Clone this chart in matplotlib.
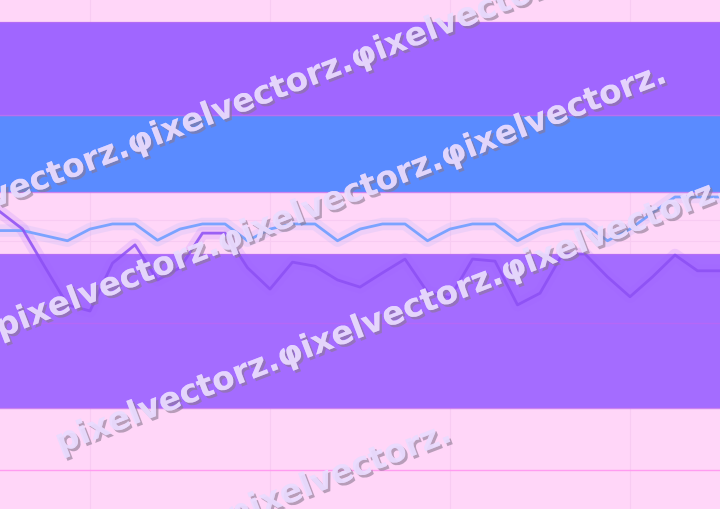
import matplotlib
matplotlib.use("Agg")
import matplotlib.pyplot as plt
import matplotlib.patheffects as pe
import numpy as np

# values (y scale 0..100, one point per step)
blue_vals = [54.7, 54.7, 53.7, 52.7, 55.0, 56.0, 56.0, 52.8, 55.0, 56.0, 56.0,
             52.7, 55.0, 56.0, 56.0, 52.7, 55.0, 56.0, 56.0, 52.7, 55.0, 56.0,
             56.0, 52.7, 55.0, 56.0, 56.0, 52.7, 55.0, 58.2, 61.3, 61.3, 61.3]
purple_vals = [58.4, 55.0, 47.5, 40.1, 38.9, 48.3, 51.9, 45.0, 47.4, 54.2, 54.2,
               47.4, 43.2, 48.5, 47.7, 45.0, 43.6, 46.4, 49.1, 42.6, 41.5, 49.1,
               48.7, 40.1, 42.4, 50.1, 50.1, 45.6, 41.7, 45.6, 49.9, 46.8, 46.8]

# horizontal bands: (low, high, colour)
band_lows = [62.3, 77.4, 19.8]
band_highs = [77.4, 95.7, 50.1]
band_colors = ["#5a8bff", "#a066ff", "#a46cff"]

ref_lines = [36.5, 7.7]
minor_lines = [56.8, 52.6]
vgrid = [4, 12, 20, 28]

watermark = "pixelvectorz.φixelvectorz.φixelvectorz."

x = np.arange(len(blue_vals))

fig = plt.figure(figsize=(7.2, 5.09), dpi=100)
fig.patch.set_facecolor("#ffd6f8")
ax = fig.add_axes([0, 0, 1, 1])
ax.set_facecolor("#ffd6f8")
ax.set_xlim(0, len(x) - 1)
ax.set_ylim(0, 100)
ax.axis("off")

for xv in vgrid:
    ax.axvline(xv, color="#f8cbf2", lw=0.8, zorder=1)
for yv in minor_lines:
    ax.axhline(yv, color="#f8cbf2", lw=0.8, zorder=1)

for lo, hi, c in zip(band_lows, band_highs, band_colors):
    ax.axhspan(lo, hi, color=c, lw=0, zorder=2)
    ax.axhline(lo, color="#c070f0", lw=1, alpha=0.8, zorder=2)
    ax.axhline(hi, color="#c070f0", lw=1, alpha=0.6, zorder=2)

ax.axhline(ref_lines[0], color="#b468f8", lw=1, zorder=2.5)
ax.axhline(ref_lines[1], color="#ff9cf0", lw=1, zorder=2.5)

# glowing lines
ax.plot(x, blue_vals, color="#7ba3ff", lw=9, alpha=0.12, solid_joinstyle="round", zorder=3)
ax.plot(x, blue_vals, color="#7ba3ff", lw=2, zorder=4)
ax.plot(x, purple_vals, color="#a060ff", lw=9, alpha=0.15, solid_joinstyle="round", zorder=3)
ax.plot(x, purple_vals, color="#8c4ff4", lw=2, alpha=0.85, zorder=4)

# diagonal watermark rows (start points in pixels from top-left)
wm_starts = [(-90, 240), (0, 338), (60, 453), (-215, 697)]
for px, py in wm_starts:
    fig.text(px / 720, 1 - py / 509, watermark, rotation=21, rotation_mode="anchor",
             fontsize=23.5, fontweight="bold", color="#eadcff", alpha=0.75,
             ha="left", va="baseline", zorder=10,
             path_effects=[pe.withSimplePatchShadow(offset=(1.8, -1.8),
                                                    shadow_rgbFace="#8a7890",
                                                    alpha=0.6),
                           pe.Normal()])

fig.savefig("out.png", dpi=100)
